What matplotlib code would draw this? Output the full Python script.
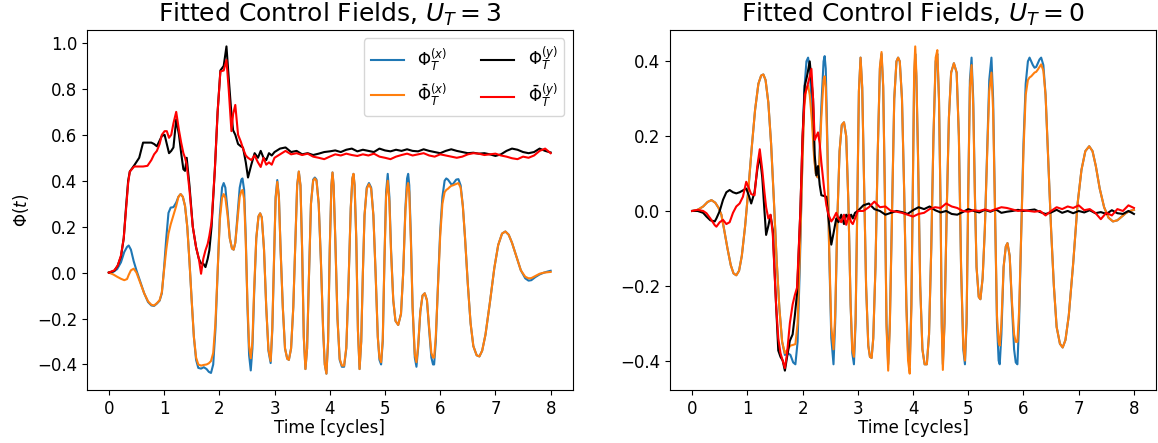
import numpy as np
import matplotlib
matplotlib.use("Agg")
import matplotlib.pyplot as plt

# ---------------------------------------------------------------------------
# values (time in cycles)

# U_T = 3, x-component: fitted / reconstructed
t_x3 = [0.00, 0.08, 0.15, 0.22, 0.28, 0.33, 0.36, 0.40, 0.45, 0.50, 0.57, 0.64, 0.71, 0.77, 0.82, 0.87, 0.92, 0.96, 1.00, 1.04, 1.08,
        1.12, 1.17, 1.22, 1.26, 1.30, 1.34, 1.38, 1.42, 1.46, 1.50, 1.54, 1.58, 1.62, 1.67, 1.72, 1.77, 1.81, 1.85,
        1.89, 1.93, 1.97, 2.01, 2.05, 2.08, 2.11, 2.15, 2.19, 2.23, 2.26, 2.29, 2.33, 2.37, 2.40, 2.42, 2.45, 2.48, 2.51, 2.54, 2.57,
        2.60, 2.63, 2.67, 2.71, 2.74, 2.77, 2.81, 2.85, 2.89, 2.93, 2.96, 2.99, 3.02, 3.05, 3.08, 3.11, 3.15, 3.19, 3.23, 3.26, 3.30,
        3.34, 3.38, 3.41, 3.44, 3.47, 3.50, 3.53, 3.56, 3.59, 3.62, 3.66, 3.70, 3.73, 3.76, 3.80, 3.84, 3.88, 3.91, 3.94, 3.97,
        4.00, 4.03, 4.05, 4.07, 4.10, 4.14, 4.18, 4.22, 4.26, 4.30, 4.34, 4.38, 4.41, 4.43, 4.45, 4.48, 4.51, 4.54, 4.57,
        4.60, 4.63, 4.67, 4.71, 4.75, 4.79, 4.83, 4.87, 4.90, 4.93, 4.96, 4.99, 5.02, 5.05, 5.08, 5.11, 5.15, 5.19, 5.24, 5.29,
        5.33, 5.37, 5.40, 5.42, 5.44, 5.47, 5.50, 5.54, 5.57, 5.60, 5.64, 5.68, 5.72, 5.76, 5.80, 5.84, 5.87, 5.89, 5.92,
        5.96, 6.00, 6.04, 6.08, 6.11, 6.14, 6.17, 6.20, 6.23, 6.26, 6.29, 6.33, 6.37, 6.41, 6.45, 6.50, 6.55, 6.60, 6.66, 6.71, 6.76,
        6.82, 6.90, 6.98, 7.05, 7.12, 7.18, 7.24, 7.30, 7.38, 7.46, 7.54, 7.60, 7.65, 7.72, 7.80, 7.88, 7.95, 8.00]
phi_x3 = [0.000, 0.003, 0.015, 0.045, 0.090, 0.112, 0.118, 0.100, 0.050, 0.010, -0.040, -0.090, -0.128, -0.143, -0.145, -0.135, -0.122, -0.090, 0.020, 0.150, 0.260,
          0.283, 0.285, 0.305, 0.330, 0.342, 0.330, 0.290, 0.200, 0.050, -0.120, -0.280, -0.380, -0.415, -0.418, -0.412, -0.420, -0.432, -0.437,
          -0.400, -0.250, 0.000, 0.250, 0.370, 0.390, 0.370, 0.270, 0.150, 0.105, 0.100, 0.130, 0.250, 0.370, 0.405, 0.410, 0.360, 0.150, -0.150, -0.360, -0.426,
          -0.330, -0.100, 0.150, 0.245, 0.258, 0.240, 0.100, -0.150, -0.340, -0.394, -0.250, 0.050, 0.330, 0.403, 0.330, 0.100, -0.150, -0.330, -0.375, -0.380, -0.330,
          -0.150, 0.150, 0.380, 0.440, 0.380, 0.100, -0.280, -0.420, -0.330, -0.050, 0.300, 0.405, 0.414, 0.405, 0.300, 0.050, -0.250, -0.400, -0.440, -0.300,
          0.100, 0.380, 0.436, 0.380, 0.150, -0.200, -0.380, -0.410, -0.410, -0.330, -0.050, 0.280, 0.410, 0.430, 0.380, 0.150, -0.250, -0.420, -0.300,
          0.000, 0.250, 0.370, 0.390, 0.370, 0.250, 0.000, -0.280, -0.380, -0.400, -0.300, 0.050, 0.350, 0.430, 0.330, 0.100, -0.120, -0.210, -0.228, -0.180,
          0.000, 0.280, 0.410, 0.430, 0.380, 0.150, -0.150, -0.370, -0.410, -0.330, -0.170, -0.100, -0.090, -0.120, -0.250, -0.370, -0.400, -0.400, -0.300,
          -0.050, 0.180, 0.330, 0.400, 0.410, 0.405, 0.395, 0.385, 0.385, 0.395, 0.405, 0.407, 0.380, 0.290, 0.150, -0.050, -0.220, -0.320, -0.360, -0.365, -0.340,
          -0.270, -0.130, 0.020, 0.120, 0.170, 0.179, 0.165, 0.130, 0.070, 0.010, -0.025, -0.035, -0.033, -0.020, -0.008, 0.000, 0.005, 0.008]
phibar_x3 = [0.000, -0.008, -0.018, -0.027, -0.033, -0.028, -0.010, 0.010, 0.017, 0.000, -0.045, -0.090, -0.125, -0.140, -0.143, -0.133, -0.120, -0.085, 0.010, 0.100, 0.170,
             0.210, 0.250, 0.290, 0.330, 0.342, 0.330, 0.290, 0.200, 0.050, -0.120, -0.280, -0.370, -0.400, -0.405, -0.402, -0.400, -0.395, -0.385,
             -0.350, -0.220, 0.000, 0.230, 0.325, 0.342, 0.325, 0.250, 0.150, 0.105, 0.100, 0.130, 0.230, 0.330, 0.355, 0.360, 0.320, 0.130, -0.130, -0.320, -0.373,
             -0.300, -0.080, 0.150, 0.245, 0.258, 0.240, 0.100, -0.150, -0.335, -0.385, -0.240, 0.050, 0.320, 0.395, 0.325, 0.100, -0.150, -0.330, -0.375, -0.380, -0.330,
             -0.150, 0.150, 0.380, 0.440, 0.380, 0.100, -0.280, -0.420, -0.330, -0.050, 0.300, 0.400, 0.410, 0.400, 0.300, 0.050, -0.250, -0.400, -0.440, -0.300,
             0.100, 0.380, 0.436, 0.380, 0.150, -0.200, -0.375, -0.405, -0.405, -0.325, -0.050, 0.280, 0.410, 0.430, 0.380, 0.150, -0.250, -0.420, -0.300,
             0.000, 0.250, 0.365, 0.385, 0.365, 0.250, 0.000, -0.280, -0.370, -0.390, -0.290, 0.050, 0.330, 0.400, 0.310, 0.090, -0.120, -0.210, -0.228, -0.180,
             0.000, 0.270, 0.370, 0.390, 0.350, 0.130, -0.150, -0.355, -0.390, -0.320, -0.170, -0.100, -0.090, -0.120, -0.240, -0.350, -0.370, -0.370, -0.280,
             -0.060, 0.160, 0.300, 0.350, 0.360, 0.365, 0.372, 0.378, 0.380, 0.383, 0.386, 0.390, 0.370, 0.290, 0.150, -0.050, -0.220, -0.320, -0.360, -0.365, -0.340,
             -0.270, -0.130, 0.020, 0.120, 0.170, 0.179, 0.165, 0.130, 0.070, 0.010, -0.018, -0.025, -0.024, -0.015, -0.005, 0.000, 0.002, 0.003]

# U_T = 3, y-component
t_y3 = [0.00, 0.10, 0.16, 0.22, 0.27, 0.31, 0.35, 0.38, 0.46, 0.55, 0.62, 0.70,
        0.77, 0.82, 0.87, 0.92, 0.96, 1.01, 1.05, 1.09, 1.13, 1.17, 1.22, 1.27,
        1.31, 1.35, 1.38, 1.41, 1.46, 1.52, 1.58, 1.63, 1.67, 1.71, 1.75, 1.79,
        1.82, 1.86, 1.92, 1.97, 2.02, 2.08, 2.13, 2.17, 2.22, 2.25, 2.29, 2.34,
        2.39, 2.43, 2.48, 2.52, 2.58, 2.64, 2.70, 2.75, 2.80, 2.85, 2.90, 2.95,
        3.0, 3.1, 3.2, 3.3, 3.4, 3.5, 3.6, 3.7, 3.8, 3.9, 4.0, 4.1, 4.2, 4.3,
        4.4, 4.5, 4.6, 4.7, 4.8, 4.9, 5.0, 5.1, 5.2, 5.3, 5.4, 5.5, 5.6, 5.7,
        5.8, 5.9, 6.0, 6.1, 6.2, 6.3, 6.4, 6.5, 6.6, 6.7, 6.8, 6.9, 7.0, 7.1,
        7.2, 7.3, 7.4, 7.5, 7.6, 7.7, 7.8, 7.9, 8.0]
phi_y3 = [0.000, 0.008, 0.030, 0.070, 0.150, 0.280, 0.400, 0.440, 0.467, 0.500, 0.566, 0.566,
          0.566, 0.560, 0.550, 0.575, 0.595, 0.600, 0.560, 0.520, 0.530, 0.545, 0.667, 0.600,
          0.520, 0.450, 0.443, 0.500, 0.380, 0.200, 0.110, 0.060, 0.040, 0.039, 0.024, 0.060,
          0.097, 0.200, 0.450, 0.700, 0.880, 0.900, 0.985, 0.850, 0.690, 0.620, 0.600, 0.560,
          0.550, 0.544, 0.480, 0.414, 0.470, 0.520, 0.500, 0.530, 0.500, 0.490, 0.520, 0.510,
          0.525, 0.540, 0.545, 0.525, 0.530, 0.515, 0.520, 0.512, 0.518, 0.525, 0.528, 0.532, 0.525, 0.535,
          0.540, 0.528, 0.535, 0.530, 0.525, 0.540, 0.532, 0.528, 0.535, 0.530, 0.537, 0.530, 0.528, 0.537,
          0.530, 0.525, 0.520, 0.530, 0.537, 0.530, 0.525, 0.520, 0.522, 0.518, 0.520, 0.515, 0.508, 0.515,
          0.530, 0.540, 0.535, 0.525, 0.520, 0.525, 0.540, 0.530, 0.523]
phibar_y3 = [0.000, 0.010, 0.030, 0.075, 0.150, 0.270, 0.390, 0.440, 0.462, 0.462, 0.462, 0.465,
             0.490, 0.515, 0.530, 0.560, 0.600, 0.616, 0.616, 0.587, 0.600, 0.650, 0.700, 0.620,
             0.566, 0.520, 0.500, 0.470, 0.360, 0.200, 0.110, 0.060, -0.005, 0.060, 0.097, 0.125,
             0.160, 0.220, 0.450, 0.700, 0.876, 0.880, 0.926, 0.800, 0.616, 0.690, 0.730, 0.600,
             0.570, 0.540, 0.510, 0.500, 0.490, 0.510, 0.480, 0.460, 0.500, 0.470, 0.480, 0.470,
             0.500, 0.515, 0.530, 0.515, 0.520, 0.512, 0.518, 0.505, 0.500, 0.494, 0.505, 0.515, 0.510, 0.518,
             0.512, 0.508, 0.515, 0.510, 0.518, 0.505, 0.500, 0.494, 0.505, 0.512, 0.518, 0.510, 0.515, 0.520,
             0.510, 0.505, 0.515, 0.510, 0.505, 0.500, 0.505, 0.515, 0.520, 0.518, 0.512, 0.515, 0.518, 0.510,
             0.505, 0.498, 0.494, 0.505, 0.500, 0.510, 0.530, 0.540, 0.520]

# U_T = 0, x-component
t_x0 = [0.00, 0.10, 0.20, 0.28, 0.35, 0.42, 0.48, 0.53, 0.58, 0.64, 0.70, 0.75, 0.80, 0.85, 0.90, 0.96, 1.02, 1.08, 1.14, 1.20, 1.25, 1.29,
        1.33, 1.38, 1.43, 1.48, 1.53, 1.58, 1.63, 1.68, 1.73, 1.78, 1.83, 1.87, 1.91, 1.95,
        1.99, 2.03, 2.07, 2.10, 2.13, 2.17, 2.21, 2.24, 2.27, 2.30, 2.34, 2.38, 2.40, 2.42, 2.45, 2.48, 2.52, 2.56, 2.59,
        2.63, 2.67, 2.71, 2.75, 2.79, 2.83, 2.87, 2.90, 2.93, 2.96, 2.99, 3.02, 3.05, 3.08, 3.11, 3.15, 3.19, 3.22, 3.25, 3.28,
        3.32, 3.36, 3.40, 3.43, 3.46, 3.49, 3.52, 3.55, 3.58, 3.62, 3.66, 3.70, 3.73, 3.76, 3.80, 3.84, 3.88, 3.91, 3.94, 3.97,
        4.00, 4.02, 4.04, 4.06, 4.09, 4.13, 4.17, 4.21, 4.25, 4.29, 4.33, 4.37, 4.41, 4.44, 4.47, 4.50, 4.52, 4.54, 4.57,
        4.61, 4.65, 4.69, 4.74, 4.79, 4.83, 4.87, 4.91, 4.94, 4.97, 5.00, 5.03, 5.06, 5.09, 5.12, 5.15, 5.19, 5.22, 5.26,
        5.30, 5.34, 5.38, 5.42, 5.45, 5.48, 5.52, 5.55, 5.57, 5.60, 5.64, 5.68, 5.71, 5.75, 5.79, 5.83, 5.86, 5.89, 5.92,
        5.96, 6.00, 6.04, 6.08, 6.11, 6.14, 6.17, 6.20, 6.23, 6.26, 6.29, 6.32, 6.36, 6.40, 6.45, 6.50, 6.55, 6.60, 6.66, 6.71, 6.76,
        6.82, 6.90, 6.98, 7.05, 7.12, 7.19, 7.25, 7.31, 7.38, 7.46, 7.54, 7.62, 7.70, 7.78, 7.86, 7.93, 8.00]
phi_x0 = [0.000, 0.003, 0.012, 0.024, 0.029, 0.022, 0.008, -0.010, -0.050, -0.100, -0.145, -0.167, -0.172, -0.160, -0.120, -0.040, 0.060, 0.170, 0.270, 0.340, 0.362, 0.365,
          0.350, 0.290, 0.180, 0.030, -0.130, -0.260, -0.350, -0.385, -0.380, -0.385, -0.405, -0.410, -0.350, -0.150,
          0.100, 0.320, 0.400, 0.410, 0.380, 0.270, 0.150, 0.100, 0.090, 0.120, 0.280, 0.400, 0.414, 0.380, 0.180, -0.100, -0.340, -0.410, -0.300,
          -0.020, 0.160, 0.230, 0.237, 0.200, 0.020, -0.250, -0.380, -0.410, -0.300, 0.000, 0.320, 0.410, 0.330, 0.100, -0.200, -0.360, -0.390, -0.393, -0.340,
          -0.150, 0.150, 0.380, 0.420, 0.330, 0.050, -0.300, -0.410, -0.300, 0.000, 0.300, 0.400, 0.410, 0.400, 0.300, 0.050, -0.250, -0.380, -0.410, -0.250,
          0.100, 0.350, 0.420, 0.360, 0.150, -0.200, -0.370, -0.410, -0.410, -0.330, -0.100, 0.200, 0.400, 0.420, 0.300, 0.000, -0.300, -0.410, -0.300,
          0.000, 0.250, 0.370, 0.395, 0.370, 0.200, -0.150, -0.370, -0.410, -0.300, 0.050, 0.350, 0.410, 0.300, 0.050, -0.150, -0.230, -0.236, -0.180,
          -0.050, 0.150, 0.350, 0.410, 0.300, 0.050, -0.300, -0.400, -0.410, -0.330, -0.150, -0.095, -0.086, -0.120, -0.250, -0.370, -0.405, -0.410, -0.300,
          -0.050, 0.180, 0.340, 0.400, 0.410, 0.400, 0.390, 0.383, 0.385, 0.395, 0.405, 0.410, 0.390, 0.310, 0.130, -0.050, -0.200, -0.310, -0.355, -0.365, -0.345,
          -0.280, -0.140, 0.020, 0.110, 0.160, 0.173, 0.160, 0.120, 0.060, 0.010, -0.018, -0.028, -0.025, -0.015, -0.005, 0.000, 0.003]
phibar_x0 = [0.000, 0.003, 0.012, 0.024, 0.029, 0.022, 0.008, -0.010, -0.050, -0.100, -0.145, -0.167, -0.172, -0.160, -0.120, -0.040, 0.060, 0.170, 0.270, 0.340, 0.362, 0.365,
             0.350, 0.290, 0.180, 0.030, -0.130, -0.260, -0.350, -0.380, -0.370, -0.360, -0.358, -0.356, -0.300, -0.120,
             0.090, 0.280, 0.330, 0.335, 0.310, 0.240, 0.140, 0.100, 0.090, 0.120, 0.250, 0.350, 0.360, 0.330, 0.160, -0.090, -0.310, -0.370, -0.280,
             -0.020, 0.160, 0.230, 0.237, 0.200, 0.020, -0.250, -0.370, -0.390, -0.290, 0.000, 0.320, 0.410, 0.330, 0.100, -0.200, -0.360, -0.390, -0.393, -0.340,
             -0.150, 0.150, 0.385, 0.425, 0.335, 0.050, -0.310, -0.427, -0.310, 0.000, 0.300, 0.400, 0.410, 0.400, 0.300, 0.050, -0.260, -0.400, -0.435, -0.260,
             0.100, 0.370, 0.440, 0.370, 0.150, -0.200, -0.370, -0.410, -0.410, -0.330, -0.100, 0.200, 0.410, 0.430, 0.300, 0.000, -0.310, -0.425, -0.300,
             0.000, 0.250, 0.370, 0.395, 0.370, 0.200, -0.150, -0.360, -0.400, -0.290, 0.050, 0.330, 0.390, 0.280, 0.040, -0.150, -0.230, -0.236, -0.180,
             -0.050, 0.140, 0.320, 0.370, 0.270, 0.040, -0.280, -0.350, -0.360, -0.300, -0.150, -0.095, -0.086, -0.120, -0.240, -0.330, -0.350, -0.350, -0.270,
             -0.060, 0.160, 0.310, 0.350, 0.357, 0.360, 0.365, 0.370, 0.372, 0.378, 0.385, 0.392, 0.375, 0.310, 0.130, -0.050, -0.200, -0.310, -0.355, -0.365, -0.345,
             -0.280, -0.140, 0.020, 0.110, 0.160, 0.173, 0.160, 0.120, 0.060, 0.010, -0.018, -0.028, -0.025, -0.015, -0.005, 0.000, 0.003]

# U_T = 0, y-component
t_y0 = [0.00, 0.10, 0.20, 0.26, 0.33, 0.41, 0.44, 0.50, 0.56, 0.62, 0.68, 0.74,
        0.80, 0.86, 0.92, 0.98, 1.03, 1.07, 1.13, 1.18, 1.225, 1.27, 1.31, 1.34,
        1.38, 1.42, 1.46, 1.52, 1.56, 1.60, 1.64, 1.68, 1.72, 1.77, 1.82, 1.86,
        1.90, 1.96, 2.00, 2.04, 2.08, 2.13, 2.16, 2.19, 2.22, 2.25, 2.28, 2.31,
        2.34, 2.39, 2.43, 2.47, 2.52, 2.56, 2.61, 2.65, 2.70, 2.75, 2.79, 2.84,
        2.88, 2.91, 2.95, 3.0, 3.1, 3.2, 3.3, 3.4, 3.5, 3.6, 3.7, 3.8, 3.9, 4.0,
        4.1, 4.2, 4.3, 4.4, 4.5, 4.6, 4.7, 4.8, 4.9, 5.0, 5.1, 5.2, 5.3, 5.4,
        5.5, 5.6, 5.7, 5.8, 5.9, 6.0, 6.1, 6.2, 6.3, 6.4, 6.5, 6.6, 6.7, 6.8,
        6.9, 7.0, 7.1, 7.2, 7.3, 7.4, 7.5, 7.6, 7.7, 7.8, 7.9, 8.0]
phi_y0 = [0.000, 0.000, -0.005, -0.015, -0.025, -0.028, -0.020, 0.000, 0.030, 0.050, 0.056, 0.050,
          0.047, 0.050, 0.055, 0.060, 0.040, 0.020, 0.050, 0.110, 0.150, 0.090, 0.000, -0.064,
          -0.040, -0.011, -0.050, -0.250, -0.373, -0.390, -0.400, -0.427, -0.390, -0.347, -0.330, -0.280,
          -0.220, 0.000, 0.200, 0.335, 0.360, 0.400, 0.350, 0.300, 0.150, 0.095, 0.120, 0.070,
          0.042, 0.040, 0.038, -0.020, -0.090, -0.060, -0.020, -0.030, -0.010, -0.035, -0.010, -0.020,
          -0.010, -0.020, -0.005, 0.000, 0.015, 0.020, 0.005, 0.000, -0.010, -0.005, 0.000, -0.003, -0.008, 0.002,
          0.010, 0.005, 0.012, 0.002, -0.004, 0.000, -0.008, -0.010, -0.003, 0.005, 0.000, -0.004, 0.003, -0.002,
          0.004, -0.005, -0.002, 0.000, 0.003, 0.000, 0.002, 0.004, -0.003, -0.008, -0.004, 0.003, -0.005, 0.000,
          -0.006, 0.000, -0.004, 0.002, -0.006, -0.003, -0.008, 0.002, -0.006, -0.008, 0.000, -0.008]
phibar_y0 = [0.000, 0.003, 0.000, -0.006, -0.020, -0.038, -0.042, -0.030, -0.024, -0.035, -0.030, -0.005,
             0.012, 0.020, 0.038, 0.078, 0.060, 0.045, 0.042, 0.120, 0.165, 0.110, 0.050, 0.010,
             -0.020, -0.010, -0.060, -0.250, -0.340, -0.380, -0.400, -0.420, -0.380, -0.300, -0.250, -0.225,
             -0.205, 0.000, 0.200, 0.310, 0.330, 0.360, 0.380, 0.300, 0.190, 0.200, 0.210, 0.180,
             0.130, 0.060, 0.016, -0.010, -0.028, -0.020, -0.005, -0.020, -0.030, -0.010, -0.037, -0.010,
             -0.030, -0.035, -0.020, 0.000, 0.000, 0.010, 0.025, 0.010, 0.012, 0.000, -0.002, -0.005, -0.010, -0.015,
             -0.008, -0.005, 0.005, 0.010, 0.008, 0.020, 0.012, 0.008, 0.000, -0.002, 0.002, 0.000, 0.004, 0.000,
             0.005, 0.010, 0.008, 0.004, 0.000, 0.002, 0.000, -0.002, 0.000, -0.012, 0.000, 0.010, 0.005, 0.012,
             0.008, 0.015, 0.002, 0.005, -0.005, -0.022, -0.005, -0.012, 0.005, 0.000, 0.015, 0.008]

panels = [
    (3, t_x3, phi_x3, phibar_x3, t_y3, phi_y3, phibar_y3),
    (0, t_x0, phi_x0, phibar_x0, t_y0, phi_y0, phibar_y0),
]

# ---------------------------------------------------------------------------

plt.rcParams['font.size'] = 12

fig = plt.figure(figsize=(11.58, 4.43), dpi=100)
axes = [fig.add_axes([0.0749, 0.1196, 0.4197, 0.8126]),
        fig.add_axes([0.5786, 0.1196, 0.4197, 0.8126])]

for ax, (U, tx, px, pbx, ty, py, pby) in zip(axes, panels):
    ax.plot(tx, px, '-', c='C0', lw=1.5, label=r'$\Phi_T^{(x)}$')
    ax.plot(tx, pbx, '-', c='C1', lw=1.5, label=r'$\bar{\Phi}_T^{(x)}$')
    ax.plot(ty, py, '-', c='k', lw=1.5, label=r'$\Phi_T^{(y)}$')
    ax.plot(ty, pby, '-', c='r', lw=1.5, label=r'$\bar{\Phi}_T^{(y)}$')
    ax.set_title(r'Fitted Control Fields, $U_T = {0}$'.format(U), fontsize=18)
    ax.set_xlabel('Time [cycles]', labelpad=1)
    ax.set_xticks(range(0, 9))

axes[0].set_ylabel(r'$\Phi(t)$')
axes[0].legend(loc='upper right', ncol=2, fontsize=12)

fig.savefig('out.png', dpi=100)
